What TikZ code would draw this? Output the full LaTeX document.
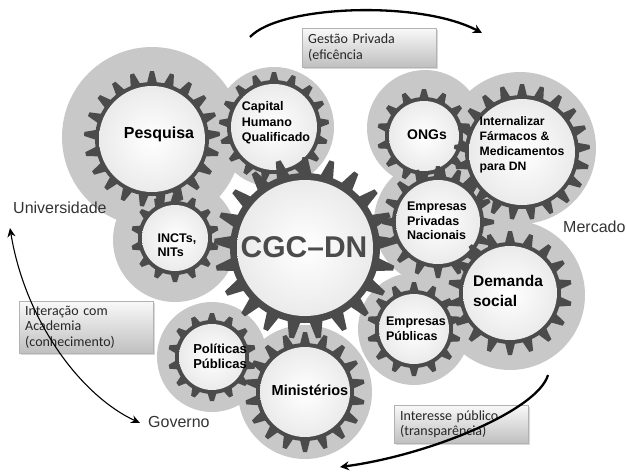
\documentclass[tikz,border=0pt]{standalone}
\usepackage{fontspec}
\setmainfont{Liberation Sans}
\newfontfamily\boxfont{Carlito}
\usetikzlibrary{arrows.meta, shadows}

\definecolor{halogray}{HTML}{C8C8C8}
\definecolor{geardark}{HTML}{4B4B4B}
\definecolor{labelgray}{HTML}{333333}

\tikzset{
  gearlabel/.style={font=\bfseries, align=left, text=black, inner sep=0pt},
  sidelabel/.style={font=\fontsize{16}{18}\selectfont, text=labelgray, anchor=base west, inner sep=0pt},
  infobox/.style={draw=gray!60, top color=gray!5, bottom color=gray!50, text=black!85,
    font=\boxfont\fontsize{14}{15.5}\selectfont, align=left, anchor=north west,
    inner xsep=6pt, text width=122pt,
    drop shadow={shadow xshift=1.5pt, shadow yshift=-1.5pt, opacity=0.3}},
  cyclearrow/.style={line width=2.3pt, -{Stealth[length=9pt,width=9pt]}},
}

% light disc behind a gear: x, y, radius
\newcommand{\halo}[3]{\fill[halogray] (#1,#2) circle [radius=#3pt];}
% gear: x, y, inner radius, tip radius, teeth, base half width, tip half width, ring
\newcommand{\gearwheel}[8]{%
  \begin{scope}[shift={(#1,#2)}]
    \foreach \k in {1,...,#5}{
      \fill[geardark, rotate=\k*360/#5] (-#6pt,#3pt+#8pt-1pt) -- (-#7pt,#4pt)
        -- (#7pt,#4pt) -- (#6pt,#3pt+#8pt-1pt) -- cycle;
    }
    \fill[geardark] (0,0) circle [radius=#3pt+#8pt];
    \shade[inner color=white, outer color=gray!16] (0,0) circle [radius=#3pt];
  \end{scope}}

\begin{document}
\begin{tikzpicture}[x=1pt, y=-1pt]
  \useasboundingbox (0,0) rectangle (627,475);

  % halos
  \halo{152}{137}{90}
  \halo{274}{127}{60}
  \halo{175}{240}{62}
  \halo{212}{357}{55}
  \halo{305}{392}{67}
  \halo{425}{128}{58}
  \halo{520}{148}{76}
  \halo{438}{222}{64}
  \halo{510}{295}{75}
  \halo{414}{329}{56}

  % gears
  \gearwheel{152}{139}{53}{68}{21}{5}{2}{4}
  \gearwheel{274}{127}{43}{55}{17}{4.5}{2}{4}
  \gearwheel{305}{248}{68}{91}{21}{6.5}{2.5}{7}
  \gearwheel{175}{238}{33}{44}{14}{4.5}{2}{4}
  \gearwheel{212}{357}{33}{44}{14}{4.5}{2}{4}
  \gearwheel{305}{392}{45}{60}{18}{5}{2}{4}
  \gearwheel{424}{136}{35}{47}{14}{4.5}{2}{4}
  \gearwheel{522}{152}{53}{68}{21}{5}{2}{4}
  \gearwheel{438}{222}{42}{56}{16}{4.5}{2}{4}
  \gearwheel{414}{329}{35}{47}{14}{4.5}{2}{4}
  \gearwheel{510}{293}{47}{62}{18}{5}{2}{4}

  % gear labels
  \node (pesquisa) [gearlabel, font=\bfseries\fontsize{16}{19}\selectfont] at (159,134) {Pesquisa};
  \node (capital) [gearlabel, font=\bfseries\fontsize{12.5}{15.5}\selectfont] at (276,123) {Capital\\Humano\\Qualificado};
  \node (incts) [gearlabel, font=\bfseries\fontsize{12.5}{13.5}\selectfont] at (177,245) {INCTs,\\NITs};
  \node (cgcdn) [gearlabel, text=geardark, font=\bfseries\fontsize{30}{32}\selectfont] at (304,247) {CGC–DN};
  \node (politicas) [gearlabel, font=\bfseries\fontsize{13}{15}\selectfont] at (220,356) {Políticas\\Públicas};
  \node (ministerios) [gearlabel, font=\bfseries\fontsize{14.5}{17}\selectfont] at (310,390) {Ministérios};
  \node (ongs) [gearlabel, font=\bfseries\fontsize{14}{16}\selectfont] at (427,135) {ONGs};
  \node (internalizar) [gearlabel, font=\bfseries\fontsize{12.2}{15}\selectfont] at (522,145) {Internalizar\\Fármacos \&\\Medicamentos\\para DN};
  \node (privadas) [gearlabel, font=\bfseries\fontsize{12.5}{14.5}\selectfont] at (437,221) {Empresas\\Privadas\\Nacionais};
  \node (demanda) [gearlabel, font=\bfseries\fontsize{15.5}{20}\selectfont] at (508,291) {Demanda\\social};
  \node (publicas) [gearlabel, font=\bfseries\fontsize{12.5}{14.5}\selectfont] at (416,329) {Empresas\\Públicas};

  % sectors
  \node (universidade) [sidelabel] at (13,213) {Universidade};
  \node (mercado) [sidelabel] at (563,232) {Mercado};
  \node (governo) [sidelabel] at (148,427) {Governo};

  % boxes
  \node (gestao) [infobox, minimum height=39pt] at (302,28) {Gestão Privada\\(eficência};
  \node (interacao) [infobox, minimum height=52pt] at (19,301) {Interação com\\Academia\\(conhecimento)};
  \node (interesse) [infobox, minimum height=38pt] at (394,405) {Interesse público\\(transparência)};

  % cycle arrows
  \coordinate (topstart) at (250,37);
  \coordinate (topend) at (482,33);
  \coordinate (rightstart) at (548,375);
  \coordinate (rightend) at (340,467);
  \coordinate (govend) at (140,423);
  \coordinate (uniend) at (10,228);

  \draw [cyclearrow] (topstart) .. controls (280,5) and (420,0) .. (topend);
  \draw [cyclearrow] (rightstart) .. controls (538,410) and (430,455) .. (rightend);
  \draw [line width=1.1pt, {Stealth[length=9pt,width=8pt]}-{Stealth[length=9pt,width=8pt]}]
    (govend) .. controls (80,395) and (25,320) .. (uniend);
\end{tikzpicture}
\end{document}
